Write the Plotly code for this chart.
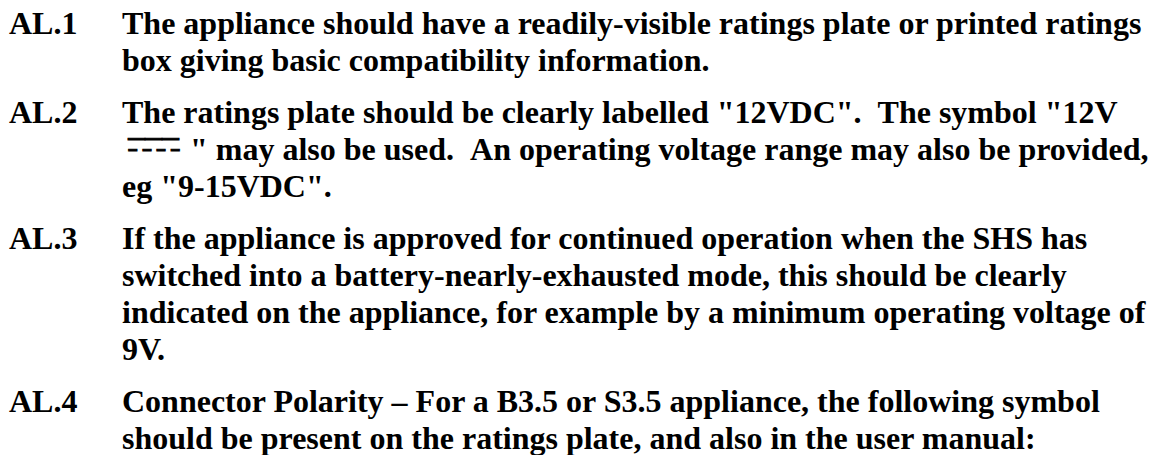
import plotly.graph_objects as go

labels = ["AL.1", "AL.2", "AL.3", "AL.4"]
para1 = ["The appliance should have a readily-visible ratings plate or printed ratings",
         "box giving basic compatibility information."]
para2 = ['The ratings plate should be clearly labelled "12VDC". \u00a0The symbol "12V',
         '" may also be used. \u00a0An operating voltage range may also be provided,',
         'eg "9-15VDC".']
para3 = ["If the appliance is approved for continued operation when the SHS has",
         "switched into a battery-nearly-exhausted mode, this should be clearly",
         "indicated on the appliance, for example by a minimum operating voltage of",
         "9V."]
para4 = ["Connector Polarity \u2013 For a B3.5 or S3.5 appliance, the following symbol",
         "should be present on the ratings plate, and also in the user manual:"]
paragraphs = [para1, para2, para3, para4]

# DC symbol (solid line over dashed line) preceding line 2 of AL.2
dc_solid = "\u2014\u2014\u2014"
dc_dashes = "\u2013 \u2013 \u2013 \u2013"

W, H = 1159, 455
BODY_MARGIN = 8          # page body margin of the exported html
X_ADJ = -2               # small horizontal offset of annotation text
FS = 32
LINE = 37
PARA_GAP = 15
FIRST_BASELINE = 34
LABEL_X = 9.5
TEXT_X = 123
SYM_X = 129
AFTER_SYM_X = 190.5
SERIF_MID = 0.3375       # baseline -> box centre (em), Liberation Serif
SANS_MID = 0.3465        # baseline -> box centre (em), Liberation Sans
SYM_FS = 17

font = dict(family="Liberation Serif, Times New Roman, serif", size=FS, color="black")
sym_font = dict(family="Liberation Sans, Arial, sans-serif", size=SYM_FS, color="black")


def ann(x, baseline, text, f, mid):
    sx = x - BODY_MARGIN + X_ADJ
    sy = baseline - mid * f["size"] - BODY_MARGIN
    return dict(x=sx / W, y=1 - sy / H, xref="paper", yref="paper", text=text,
                showarrow=False, xanchor="left", yanchor="middle", align="left",
                font=f, borderpad=0)


thick = "<span style='stroke:black;stroke-width:1px'><b>%s</b></span>"

annotations = []
b = FIRST_BASELINE
for pi, (lab, para) in enumerate(zip(labels, paragraphs)):
    annotations.append(ann(LABEL_X, b, "<b>%s</b>" % lab, font, SERIF_MID))
    for li, line in enumerate(para):
        x = TEXT_X
        if pi == 1 and li == 1:
            annotations.append(ann(SYM_X, b - 16, thick % dc_solid, sym_font, SANS_MID))
            annotations.append(ann(SYM_X, b - 4.5, thick % dc_dashes, sym_font, SANS_MID))
            x = AFTER_SYM_X
        annotations.append(ann(x, b, "<b>%s</b>" % line, font, SERIF_MID))
        b += LINE
    b += PARA_GAP

fig = go.Figure()
fig.update_layout(
    width=W, height=H, margin=dict(l=0, r=0, t=0, b=0),
    paper_bgcolor="white", plot_bgcolor="white",
    xaxis=dict(visible=False, fixedrange=True),
    yaxis=dict(visible=False, fixedrange=True),
    annotations=annotations, showlegend=False,
)
fig.write_html("out.html", config={"displayModeBar": False})
